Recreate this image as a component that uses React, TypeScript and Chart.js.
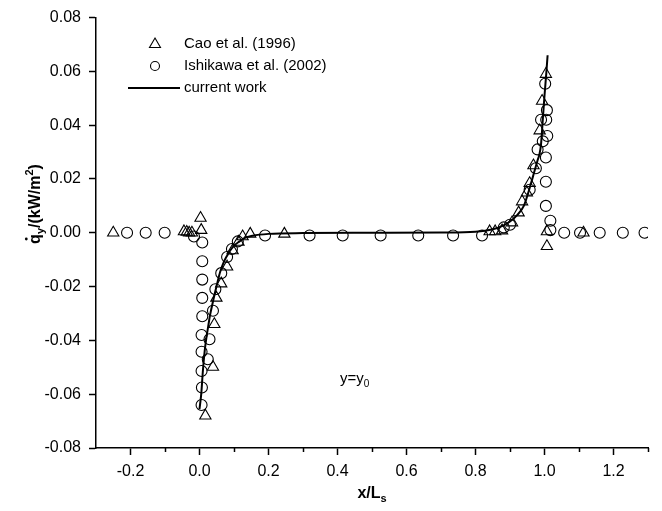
import React, { useEffect, useRef } from "react";
import { Chart, registerables } from "chart.js";

Chart.register(...registerables);

// ---- data ----
const X_TICKS = [-0.2, 0.0, 0.2, 0.4, 0.6, 0.8, 1.0, 1.2];
const X_MINOR = [-0.1, 0.1, 0.3, 0.5, 0.7, 0.9, 1.1, 1.3];
const Y_TICKS = [-0.08, -0.06, -0.04, -0.02, 0.0, 0.02, 0.04, 0.06, 0.08];

const CAO_X = [-0.25, -0.045, -0.037, -0.03, -0.022, 0.003, 0.005, 0.017, 0.039, 0.043, 0.049, 0.063, 0.08, 0.096, 0.113, 0.125, 0.147, 0.246,
  0.841, 0.857, 0.877, 0.906, 0.925, 0.935, 0.949, 0.957, 0.968, 0.986, 0.993, 1.004, 1.007, 1.007, 1.113];
const CAO_Y = [0.0, 0.0005, 0.0003, 0.0, 0.0, 0.0055, 0.001, -0.068, -0.0499, -0.034, -0.0242, -0.0189, -0.0126, -0.0066, -0.0034, -0.0014, -0.0004, -0.0004,
  0.0005, 0.0005, 0.0008, 0.0038, 0.0075, 0.0116, 0.0149, 0.0184, 0.025, 0.038, 0.049, 0.059, 0.0005, -0.005, 0.0];

const ISH_X = [-0.21, -0.156, -0.101, -0.016, 0.008, 0.008, 0.008, 0.008, 0.008, 0.006, 0.006, 0.006, 0.007, 0.006, 0.024, 0.029, 0.039, 0.046, 0.063, 0.08, 0.094, 0.111, 0.19,
  0.319, 0.415, 0.525, 0.634, 0.735, 0.819, 0.882, 0.9, 0.957, 0.975, 0.98, 0.995, 0.99, 1.002, 1.007, 1.005, 1.008, 1.004, 1.004, 1.004, 1.017, 1.017, 1.057, 1.103, 1.16, 1.227, 1.29];
const ISH_Y = [0.0, 0.0, 0.0, -0.0014, -0.0036, -0.0106, -0.0174, -0.0242, -0.031, -0.038, -0.0442, -0.0514, -0.0575, -0.064, -0.047, -0.0396, -0.029, -0.021, -0.015, -0.009, -0.006, -0.0032, -0.001,
  -0.001, -0.001, -0.001, -0.001, -0.001, -0.001, 0.002, 0.003, 0.016, 0.024, 0.031, 0.034, 0.042, 0.0554, 0.0456, 0.042, 0.036, 0.028, 0.019, 0.01, 0.0045, 0.001, 0.0, 0.0, 0.0, 0.0, 0.0];

const CURVE_X = [0.0, 0.005, 0.01, 0.015, 0.02, 0.025, 0.03, 0.04, 0.05, 0.06, 0.07, 0.08, 0.09, 0.1, 0.116, 0.13, 0.154, 0.2, 0.3, 0.5, 0.7,
  0.8, 0.85, 0.88, 0.9, 0.92, 0.94, 0.96, 0.97, 0.98, 0.985, 0.99, 0.995, 1.0, 1.005, 1.009];
const CURVE_Y = [-0.0655, -0.06, -0.051, -0.044, -0.039, -0.035, -0.031, -0.025, -0.0195, -0.0145, -0.011, -0.0085, -0.0064, -0.0048, -0.0032, -0.002, -0.0011, -0.0004, -0.0001, 0.0, 0.0001,
  0.0004, 0.0013, 0.0027, 0.0042, 0.0065, 0.01, 0.018, 0.0225, 0.027, 0.029, 0.033, 0.042, 0.051, 0.059, 0.066];

const LEGEND_LABELS = ["Cao et al. (1996)", "Ishikawa et al. (2002)", "current work"];
const ANNOT_X = 0.45;
const ANNOT_Y = -0.054;

const FONT = "'Liberation Sans', Arial, sans-serif";

type Part = { t: string; sub?: boolean; sup?: boolean; dot?: boolean };

function drawRich(ctx: CanvasRenderingContext2D, parts: Part[], x: number, y: number, size: number, bold: boolean, align: "left" | "center") {
  const w = bold ? "bold " : "";
  const small = Math.round(size * 0.68);
  const widths = parts.map((p) => {
    ctx.font = `${w}${p.sub || p.sup ? small : size}px ${FONT}`;
    return ctx.measureText(p.t).width;
  });
  const total = widths.reduce((a, b) => a + b, 0);
  let cx = align === "center" ? x - total / 2 : x;
  ctx.textAlign = "left";
  ctx.textBaseline = "alphabetic";
  parts.forEach((p, i) => {
    ctx.font = `${w}${p.sub || p.sup ? small : size}px ${FONT}`;
    let dy = 0;
    if (p.sub) dy = size * 0.28;
    if (p.sup) dy = -size * 0.42;
    ctx.fillText(p.t, cx, y + dy);
    if (p.dot) {
      ctx.beginPath();
      ctx.arc(cx + widths[i] / 2, y - size * 0.72 - 2.2, 1.4, 0, Math.PI * 2);
      ctx.fill();
    }
    cx += widths[i];
  });
}

const overlay = {
  id: "overlay",
  afterDraw(chart: any) {
    const ctx: CanvasRenderingContext2D = chart.ctx;
    const xs = chart.scales.x;
    const ys = chart.scales.y;
    const area = chart.chartArea;
    ctx.save();
    ctx.strokeStyle = "#000";
    ctx.fillStyle = "#000";
    ctx.lineWidth = 1.5;
    // minor x ticks
    X_MINOR.forEach((v) => {
      const px = Math.round(xs.getPixelForValue(v)) + 0.5;
      ctx.beginPath();
      ctx.moveTo(px, area.bottom);
      ctx.lineTo(px, area.bottom + 4);
      ctx.stroke();
    });
    // x title
    drawRich(ctx, [{ t: "x/L" }, { t: "s", sub: true }], (area.left + area.right) / 2, 498, 16, true, "center");
    // y title (rotated)
    ctx.save();
    ctx.translate(40, 204);
    ctx.rotate(-Math.PI / 2);
    drawRich(ctx, [{ t: "q", dot: true }, { t: "y", sub: true }, { t: "/(kW/m" }, { t: "2", sup: true }, { t: ")" }], 0, 0, 16, true, "center");
    ctx.restore();
    // annotation
    drawRich(ctx, [{ t: "y=y" }, { t: "0", sub: true }], xs.getPixelForValue(ANNOT_X), ys.getPixelForValue(ANNOT_Y) + 5, 15, false, "center");
    // legend
    const lx = 155;
    ctx.lineWidth = 1.1;
    ctx.beginPath();
    ctx.moveTo(lx, 38);
    ctx.lineTo(lx + 5.5, 47.5);
    ctx.lineTo(lx - 5.5, 47.5);
    ctx.closePath();
    ctx.stroke();
    ctx.beginPath();
    ctx.arc(lx, 66, 4.5, 0, Math.PI * 2);
    ctx.stroke();
    ctx.lineWidth = 1.8;
    ctx.beginPath();
    ctx.moveTo(128, 88);
    ctx.lineTo(180, 88);
    ctx.stroke();
    ctx.font = `15px ${FONT}`;
    ctx.textAlign = "left";
    ctx.textBaseline = "middle";
    ctx.fillText(LEGEND_LABELS[0], 184, 44);
    ctx.fillText(LEGEND_LABELS[1], 184, 66);
    ctx.fillText(LEGEND_LABELS[2], 184, 88);
    ctx.restore();
  },
};

export default function App() {
  const ref = useRef<HTMLCanvasElement | null>(null);
  useEffect(() => {
    if (!ref.current) return;
    const tickFont = { family: FONT, size: 16 };
    const chart = new Chart(ref.current, {
      type: "scatter",
      data: {
        datasets: [
          {
            type: "line",
            label: LEGEND_LABELS[2],
            data: CURVE_X.map((x, i) => ({ x, y: CURVE_Y[i] })),
            borderColor: "#000",
            borderWidth: 2,
            pointRadius: 0,
            fill: false,
            cubicInterpolationMode: "monotone",
          } as any,
          {
            label: LEGEND_LABELS[0],
            data: CAO_X.map((x, i) => ({ x, y: CAO_Y[i] })),
            pointStyle: "triangle",
            pointRadius: 6.5,
            borderColor: "#000",
            backgroundColor: "rgba(0,0,0,0)",
            borderWidth: 1.1,
          },
          {
            label: LEGEND_LABELS[1],
            data: ISH_X.map((x, i) => ({ x, y: ISH_Y[i] })),
            pointStyle: "circle",
            pointRadius: 5.5,
            borderColor: "#000",
            backgroundColor: "rgba(0,0,0,0)",
            borderWidth: 1.1,
          },
        ],
      },
      options: {
        responsive: false,
        animation: false,
        devicePixelRatio: 1,
        layout: { padding: { top: 16, right: 14, left: 0, bottom: 0 } },
        plugins: { legend: { display: false }, tooltip: { enabled: false } },
        scales: {
          x: {
            type: "linear",
            min: -0.3,
            max: 1.3,
            afterBuildTicks: (s: any) => {
              s.ticks = X_TICKS.map((v) => ({ value: v }));
            },
            afterFit: (s: any) => {
              s.height = 63;
            },
            ticks: {
              callback: (v: any) => Number(v).toFixed(1),
              font: tickFont,
              color: "#000",
              padding: 7,
              maxRotation: 0,
              autoSkip: false,
            },
            grid: { drawOnChartArea: false, tickLength: 7, tickColor: "#000", tickWidth: 1.5 },
            border: { color: "#000", width: 1.5 },
          },
          y: {
            type: "linear",
            min: -0.08,
            max: 0.08,
            afterBuildTicks: (s: any) => {
              s.ticks = Y_TICKS.map((v) => ({ value: v }));
            },
            afterFit: (s: any) => {
              s.width = 96;
            },
            ticks: {
              callback: (v: any) => Number(v).toFixed(2),
              font: tickFont,
              color: "#000",
              padding: 8,
              autoSkip: false,
            },
            grid: { drawOnChartArea: false, tickLength: 7, tickColor: "#000", tickWidth: 1.5 },
            border: { color: "#000", width: 1.5 },
          },
        },
      } as any,
      plugins: [overlay],
    });
    return () => chart.destroy();
  }, []);
  return (
    <div style={{ position: "absolute", left: 0, top: 0, width: 662, height: 511, background: "#fff" }}>
      <canvas ref={ref} width={662} height={511} />
    </div>
  );
}
